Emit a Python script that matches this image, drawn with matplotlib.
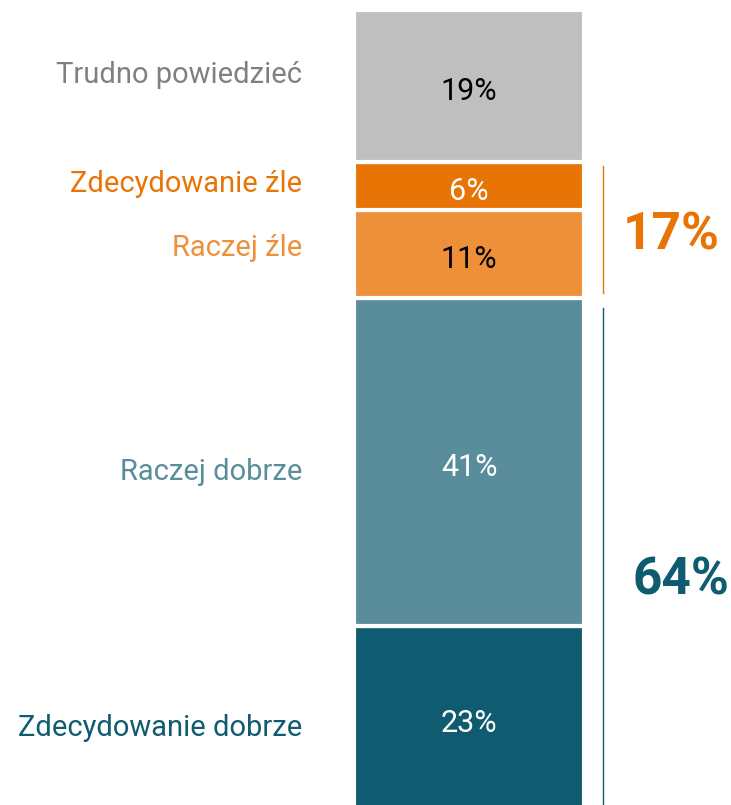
import matplotlib
matplotlib.use("Agg")
import matplotlib.pyplot as plt

# stacked single bar, bottom to top
categories = ["Zdecydowanie dobrze", "Raczej dobrze", "Raczej źle", "Zdecydowanie źle", "Trudno powiedzieć"]
values = [23, 41, 11, 6, 19]
bar_colors = ["#0F5B6F", "#5A8D9C", "#EE8F3A", "#E87406", "#BFBFBF"]
label_colors = ["#0F5B6F", "#5A8D9C", "#EE8F3A", "#E87406", "#808080"]
value_colors = ["white", "white", "black", "white", "black"]

# bracket groups: (first index, last index, color)
groups = [(0, 1, "#0F5B6F"), (2, 3, "#E87406")]

plt.rcParams["font.family"] = ["Roboto", "DejaVu Sans"]

fig = plt.figure(figsize=(7.31, 8.05), dpi=100)
ax = fig.add_axes([0, 0, 1, 1])
ax.set_xlim(0, 731)
ax.set_ylim(0.625, 101.25)
ax.axis("off")

bar_x = 469
bottoms = []
b = 0
for v in values:
    bottoms.append(b)
    b += v

ax.bar([bar_x] * len(values), values, bottom=bottoms, width=230,
       color=bar_colors, edgecolor="white", linewidth=3)

label_offsets = [-1.25, -1.225, 0.7, 0.225, 1.375]
for i, (cat, v, bt) in enumerate(zip(categories, values, bottoms)):
    mid = bt + v / 2
    ax.text(302, mid + label_offsets[i], cat, ha="right", va="center",
            fontsize=21, color=label_colors[i])
    ax.text(bar_x, mid - 0.625, f"{v}%", ha="center", va="center",
            fontsize=22, color=value_colors[i])

# bracket lines and group totals
line_trim = {0: (0.6, 1.25), 2: (0.6, 0.5)}
sum_pos = {0: (681, -3.275), 2: (671, -0.75)}
for i0, i1, col in groups:
    lo = bottoms[i0]
    hi = bottoms[i1] + values[i1]
    t_lo, t_hi = line_trim[i0]
    ax.plot([603, 603], [lo + t_lo, hi - t_hi], color=col, linewidth=1.0)
    total = sum(values[i0:i1 + 1])
    sx, dy = sum_pos[i0]
    ax.text(sx, (lo + hi) / 2 + dy, f"{total}%",
            ha="center", va="center", fontsize=37, fontweight="bold", color=col)

fig.savefig("out.png", dpi=100)
